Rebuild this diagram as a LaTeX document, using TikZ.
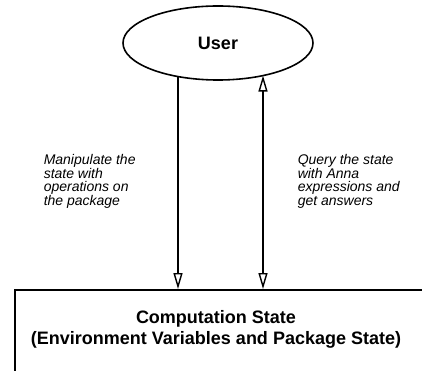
\documentclass[tikz,border=0pt]{standalone}
\usepackage{fontspec}
\setmainfont{Liberation Sans}
\usetikzlibrary{arrows.meta,shapes.geometric}
\begin{document}
\begin{tikzpicture}[x=1pt,y=-1pt,
  line width=1.5pt,
  openhead/.tip={Triangle[open,length=16pt,width=9pt,line width=1.4pt]},
  flow/.style={draw,-openhead},
  boldtext/.style={font=\fontsize{18}{21}\selectfont\bfseries},
  note/.style={font=\fontsize{14}{13.4}\selectfont\itshape,align=left,inner sep=0pt,anchor=north west}]
\useasboundingbox (0,0) rectangle (422,371);
\clip (0,0) rectangle (422,371);
\node[ellipse,draw,line width=1.6pt,minimum width=190pt,minimum height=74pt,inner sep=0pt,boldtext] (user) at (218,43) {User};
\node[draw,line width=1.6pt,anchor=north west,minimum width=430pt,minimum height=110pt,inner sep=0pt] (state) at (14,289) {};
\node[boldtext,align=center,inner sep=0pt] (statetext) at (216,329) {Computation State\\(Environment Variables and Package State)};
\coordinate (a1) at (178,76.6);
\coordinate (a2) at (263,75.6);
\draw[-openhead] (a1) -- (a1 |- state.north);
\draw[openhead-openhead] (a2) -- (a2 |- state.north);
\node[note] (t1) at (43,154) {Manipulate the\\state with\\operations on\\the package};
\node[note] (t2) at (297,154) {Query the state\\with Anna\\expressions and\\get answers};
\end{tikzpicture}
\end{document}
